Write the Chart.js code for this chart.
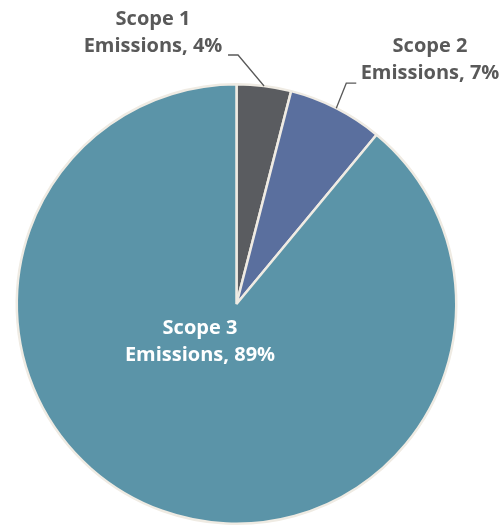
<!DOCTYPE html>
<html>
<head>
<meta charset="utf-8">
<script src="https://cdn.jsdelivr.net/npm/chart.js@4/dist/chart.umd.min.js"></script>
<style>
  html, body { margin: 0; padding: 0; background: #ffffff; }
  #wrap { width: 501px; height: 527px; position: relative; }
</style>
</head>
<body>
<div id="wrap"><canvas id="emissionsChart"></canvas></div>
<script>
const scopeLabels = ['Scope 1', 'Scope 2', 'Scope 3'];
const emissionShares = [4, 7, 89];
const sliceColors = ['#5a5c60', '#5a6f9e', '#5b94a8'];

// where each label sits and how its leader line bends (null = inside the slice)
const labelSpots = [
    { x: 153, y: 19, color: '#595959', elbow: { dx: -26, dy: -31, run: -10 } },
    { x: 430, y: 46, color: '#595959', elbow: { dx: 10, dy: -25, run: 10 } },
    { x: 200, y: 328, color: '#ffffff', elbow: null }
];

const pieLabels = {
    id: 'pieLabels',
    afterDatasetsDraw(chart) {
        const ctx = chart.ctx;
        const meta = chart.getDatasetMeta(0);
        ctx.save();
        meta.data.forEach((arc, i) => {
            const spot = labelSpots[i];
            const mid = (arc.startAngle + arc.endAngle) / 2;
            if (spot.elbow) {
                const ax = arc.x + Math.cos(mid) * arc.outerRadius;
                const ay = arc.y + Math.sin(mid) * arc.outerRadius;
                const ex = ax + spot.elbow.dx;
                const ey = ay + spot.elbow.dy;
                ctx.beginPath();
                ctx.moveTo(ax, ay);
                ctx.lineTo(ex, ey);
                ctx.lineTo(ex + spot.elbow.run, ey);
                ctx.strokeStyle = '#595959';
                ctx.lineWidth = 1.3;
                ctx.stroke();
            }
            ctx.fillStyle = spot.color;
            ctx.font = 'bold 20px "Open Sans"';
            ctx.textAlign = 'center';
            ctx.textBaseline = 'middle';
            ctx.fillText(scopeLabels[i], spot.x, spot.y);
            ctx.fillText('Emissions, ' + emissionShares[i] + '%', spot.x, spot.y + 27);
        });
        ctx.restore();
    }
};

new Chart(document.getElementById('emissionsChart'), {
    type: 'pie',
    data: {
        labels: scopeLabels,
        datasets: [{
            data: emissionShares,
            backgroundColor: sliceColors,
            borderColor: '#efebe3',
            borderWidth: 2.5
        }]
    },
    options: {
        responsive: true,
        maintainAspectRatio: false,
        animation: false,
        layout: { padding: { top: 83, bottom: 2, left: 13, right: 41 } },
        plugins: {
            legend: { display: false },
            tooltip: { enabled: false }
        }
    },
    plugins: [pieLabels]
});
</script>
</body>
</html>
